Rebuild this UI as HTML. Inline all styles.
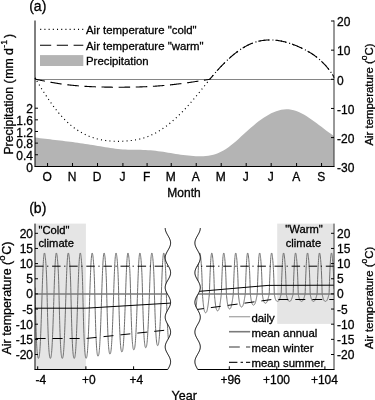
<!DOCTYPE html>
<html><head><meta charset="utf-8"><style>
html,body{margin:0;padding:0;background:#fff;width:375px;height:400px;overflow:hidden;}
svg{display:block;font-family:"Liberation Sans", sans-serif;filter:grayscale(1);}
</style></head><body>
<svg width="375" height="400" viewBox="0 0 375 400" font-family='"Liberation Sans", sans-serif'><style>text{stroke:#000;stroke-width:0.3px}</style><path d="M35,166 L35,137.57 L37.51,137.87 L40.03,138.16 L42.54,138.46 L45.05,138.75 L47.56,139.04 L50.08,139.33 L52.59,139.63 L55.1,139.92 L57.61,140.22 L60.13,140.52 L62.64,140.83 L65.15,141.14 L67.66,141.45 L70.18,141.78 L72.69,142.11 L75.2,142.44 L77.71,142.79 L80.23,143.14 L82.74,143.51 L85.25,143.88 L87.76,144.26 L90.28,144.65 L92.79,145.05 L95.3,145.46 L97.82,145.88 L100.33,146.31 L102.84,146.74 L105.35,147.16 L107.87,147.58 L110.38,147.97 L112.89,148.35 L115.4,148.69 L117.92,148.99 L120.43,149.25 L122.94,149.46 L125.45,149.61 L127.97,149.71 L130.48,149.77 L132.99,149.81 L135.5,149.82 L138.02,149.84 L140.53,149.87 L143.04,149.91 L145.55,150 L148.07,150.13 L150.58,150.32 L153.09,150.56 L155.61,150.83 L158.12,151.15 L160.63,151.5 L163.14,151.87 L165.66,152.26 L168.17,152.66 L170.68,153.07 L173.19,153.47 L175.71,153.88 L178.22,154.27 L180.73,154.64 L183.24,154.99 L185.76,155.3 L188.27,155.58 L190.78,155.82 L193.29,156.01 L195.81,156.14 L198.32,156.22 L200.83,156.22 L203.34,156.13 L205.86,155.95 L208.37,155.65 L210.88,155.21 L213.39,154.63 L215.91,153.89 L218.42,152.98 L220.93,151.87 L223.45,150.55 L225.96,149.01 L228.47,147.27 L230.98,145.36 L233.5,143.31 L236.01,141.15 L238.52,138.9 L241.03,136.61 L243.55,134.3 L246.06,131.99 L248.57,129.72 L251.08,127.52 L253.6,125.38 L256.11,123.32 L258.62,121.36 L261.13,119.5 L263.65,117.75 L266.16,116.14 L268.67,114.66 L271.18,113.33 L273.7,112.17 L276.21,111.19 L278.72,110.39 L281.24,109.8 L283.75,109.43 L286.26,109.28 L288.77,109.36 L291.29,109.66 L293.8,110.2 L296.31,110.96 L298.82,111.96 L301.34,113.16 L303.85,114.54 L306.36,116.07 L308.87,117.72 L311.39,119.46 L313.9,121.26 L316.41,123.1 L318.92,124.98 L321.44,126.87 L323.95,128.76 L326.46,130.64 L328.97,132.51 L331.49,134.35 L334,136.17 L334,166 Z" fill="#b4b4b4"/>
<line x1="35" y1="79.5" x2="334" y2="79.5" stroke="#666" stroke-width="0.8"/>
<polyline points="35,77.86 35.75,79.12 36.5,80.37 37.25,81.62 38,82.85 38.75,84.09 39.5,85.31 40.25,86.52 40.99,87.73 41.74,88.93 42.49,90.12 43.24,91.3 43.99,92.47 44.74,93.63 45.49,94.77 46.24,95.91 46.99,97.04 47.74,98.16 48.49,99.26 49.24,100.35 49.99,101.43 50.74,102.5 51.49,103.55 52.24,104.59 52.98,105.62 53.73,106.63 54.48,107.62 55.23,108.61 55.98,109.57 56.73,110.52 57.48,111.46 58.23,112.38 58.98,113.28 59.73,114.17 60.48,115.04 61.23,115.89 61.98,116.72 62.73,117.53 63.48,118.33 64.23,119.11 64.97,119.87 65.72,120.62 66.47,121.34 67.22,122.05 67.97,122.75 68.72,123.42 69.47,124.08 70.22,124.73 70.97,125.36 71.72,125.97 72.47,126.57 73.22,127.15 73.97,127.72 74.72,128.27 75.47,128.81 76.22,129.33 76.96,129.84 77.71,130.33 78.46,130.81 79.21,131.28 79.96,131.73 80.71,132.17 81.46,132.6 82.21,133.01 82.96,133.41 83.71,133.8 84.46,134.18 85.21,134.54 85.96,134.89 86.71,135.23 87.46,135.56 88.21,135.88 88.95,136.18 89.7,136.48 90.45,136.76 91.2,137.03 91.95,137.3 92.7,137.55 93.45,137.79 94.2,138.03 94.95,138.25 95.7,138.46 96.45,138.67 97.2,138.87 97.95,139.05 98.7,139.23 99.45,139.4 100.2,139.56 100.94,139.72 101.69,139.86 102.44,140 103.19,140.13 103.94,140.26 104.69,140.37 105.44,140.48 106.19,140.58 106.94,140.68 107.69,140.77 108.44,140.85 109.19,140.92 109.94,140.99 110.69,141.05 111.44,141.1 112.19,141.15 112.93,141.19 113.68,141.23 114.43,141.26 115.18,141.28 115.93,141.3 116.68,141.31 117.43,141.31 118.18,141.31 118.93,141.31 119.68,141.3 120.43,141.28 121.18,141.26 121.93,141.23 122.68,141.2 123.43,141.17 124.18,141.12 124.92,141.08 125.67,141.03 126.42,140.97 127.17,140.91 127.92,140.85 128.67,140.78 129.42,140.7 130.17,140.62 130.92,140.54 131.67,140.45 132.42,140.35 133.17,140.25 133.92,140.14 134.67,140.02 135.42,139.9 136.17,139.76 136.91,139.63 137.66,139.48 138.41,139.32 139.16,139.16 139.91,138.99 140.66,138.81 141.41,138.62 142.16,138.42 142.91,138.21 143.66,137.99 144.41,137.76 145.16,137.52 145.91,137.27 146.66,137 147.41,136.73 148.16,136.44 148.9,136.15 149.65,135.84 150.4,135.52 151.15,135.19 151.9,134.84 152.65,134.49 153.4,134.12 154.15,133.75 154.9,133.36 155.65,132.96 156.4,132.55 157.15,132.13 157.9,131.69 158.65,131.25 159.4,130.79 160.15,130.33 160.89,129.85 161.64,129.36 162.39,128.86 163.14,128.35 163.89,127.83 164.64,127.3 165.39,126.76 166.14,126.21 166.89,125.65 167.64,125.07 168.39,124.49 169.14,123.9 169.89,123.29 170.64,122.68 171.39,122.05 172.14,121.42 172.88,120.78 173.63,120.12 174.38,119.46 175.13,118.78 175.88,118.1 176.63,117.4 177.38,116.7 178.13,115.99 178.88,115.26 179.63,114.53 180.38,113.79 181.13,113.04 181.88,112.27 182.63,111.5 183.38,110.72 184.13,109.93 184.87,109.13 185.62,108.33 186.37,107.51 187.12,106.69 187.87,105.86 188.62,105.02 189.37,104.17 190.12,103.32 190.87,102.46 191.62,101.59 192.37,100.72 193.12,99.84 193.87,98.95 194.62,98.06 195.37,97.16 196.12,96.26 196.86,95.35 197.61,94.44 198.36,93.52 199.11,92.6 199.86,91.67 200.61,90.74 201.36,89.81 202.11,88.88 202.86,87.94 203.61,87 204.36,86.06 205.11,85.12 205.86,84.19 206.61,83.25 207.36,82.32 208.11,81.39 208.85,80.47 209.6,79.55 210.35,78.63 211.1,77.72 211.85,76.82 212.6,75.92 213.35,75.04 214.1,74.16 214.85,73.29 215.6,72.43 216.35,71.57 217.1,70.73 217.85,69.9 218.6,69.07 219.35,68.25 220.1,67.45 220.84,66.65 221.59,65.86 222.34,65.08 223.09,64.31 223.84,63.55 224.59,62.8 225.34,62.06 226.09,61.33 226.84,60.61 227.59,59.91 228.34,59.21 229.09,58.52 229.84,57.85 230.59,57.18 231.34,56.53 232.09,55.88 232.83,55.25 233.58,54.63 234.33,54.02 235.08,53.43 235.83,52.84 236.58,52.27 237.33,51.71 238.08,51.16 238.83,50.62 239.58,50.1 240.33,49.59 241.08,49.09 241.83,48.6 242.58,48.13 243.33,47.67 244.08,47.22 244.82,46.78 245.57,46.36 246.32,45.96 247.07,45.56 247.82,45.18 248.57,44.82 249.32,44.46 250.07,44.12 250.82,43.8 251.57,43.49 252.32,43.19 253.07,42.91 253.82,42.64 254.57,42.39 255.32,42.15 256.07,41.92 256.81,41.7 257.56,41.5 258.31,41.31 259.06,41.14 259.81,40.97 260.56,40.82 261.31,40.69 262.06,40.56 262.81,40.45 263.56,40.34 264.31,40.25 265.06,40.18 265.81,40.11 266.56,40.05 267.31,40.01 268.06,39.98 268.8,39.96 269.55,39.95 270.3,39.95 271.05,39.96 271.8,39.98 272.55,40.01 273.3,40.05 274.05,40.11 274.8,40.17 275.55,40.24 276.3,40.32 277.05,40.42 277.8,40.52 278.55,40.63 279.3,40.75 280.05,40.88 280.79,41.01 281.54,41.16 282.29,41.32 283.04,41.48 283.79,41.65 284.54,41.84 285.29,42.02 286.04,42.22 286.79,42.43 287.54,42.64 288.29,42.87 289.04,43.1 289.79,43.34 290.54,43.58 291.29,43.84 292.04,44.1 292.78,44.37 293.53,44.65 294.28,44.93 295.03,45.23 295.78,45.53 296.53,45.84 297.28,46.15 298.03,46.47 298.78,46.8 299.53,47.14 300.28,47.49 301.03,47.84 301.78,48.2 302.53,48.56 303.28,48.94 304.03,49.32 304.77,49.7 305.52,50.1 306.27,50.5 307.02,50.9 307.77,51.32 308.52,51.75 309.27,52.18 310.02,52.63 310.77,53.09 311.52,53.56 312.27,54.04 313.02,54.54 313.77,55.05 314.52,55.57 315.27,56.11 316.02,56.67 316.76,57.25 317.51,57.84 318.26,58.45 319.01,59.08 319.76,59.73 320.51,60.4 321.26,61.09 322.01,61.81 322.76,62.55 323.51,63.31 324.26,64.09 325.01,64.9 325.76,65.74 326.51,66.6 327.26,67.49 328.01,68.4 328.75,69.35 329.5,70.32 330.25,71.33 331,72.36 331.75,73.43 332.5,74.53 333.25,75.66 334,77.86" fill="none" stroke="#000" stroke-width="1.15" stroke-dasharray="1.05 3.23" stroke-dashoffset="0.7"/>
<polyline points="35,77.86 35.75,79.12 36.5,79.44 37.25,79.6 38,79.75 38.75,79.91 39.5,80.07 40.25,80.22 40.99,80.37 41.74,80.53 42.49,80.68 43.24,80.83 43.99,80.98 44.74,81.12 45.49,81.27 46.24,81.42 46.99,81.56 47.74,81.7 48.49,81.84 49.24,81.98 49.99,82.12 50.74,82.26 51.49,82.39 52.24,82.52 52.98,82.65 53.73,82.78 54.48,82.91 55.23,83.03 55.98,83.16 56.73,83.28 57.48,83.4 58.23,83.51 58.98,83.63 59.73,83.74 60.48,83.85 61.23,83.96 61.98,84.07 62.73,84.17 63.48,84.27 64.23,84.37 64.97,84.47 65.72,84.56 66.47,84.66 67.22,84.75 67.97,84.83 68.72,84.92 69.47,85 70.22,85.09 70.97,85.17 71.72,85.25 72.47,85.32 73.22,85.4 73.97,85.47 74.72,85.54 75.47,85.61 76.22,85.67 76.96,85.74 77.71,85.8 78.46,85.86 79.21,85.92 79.96,85.98 80.71,86.04 81.46,86.09 82.21,86.14 82.96,86.19 83.71,86.24 84.46,86.29 85.21,86.34 85.96,86.38 86.71,86.42 87.46,86.47 88.21,86.51 88.95,86.55 89.7,86.58 90.45,86.62 91.2,86.65 91.95,86.69 92.7,86.72 93.45,86.75 94.2,86.78 94.95,86.81 95.7,86.84 96.45,86.86 97.2,86.89 97.95,86.91 98.7,86.93 99.45,86.96 100.2,86.98 100.94,87 101.69,87.01 102.44,87.03 103.19,87.05 103.94,87.07 104.69,87.08 105.44,87.09 106.19,87.11 106.94,87.12 107.69,87.13 108.44,87.14 109.19,87.15 109.94,87.16 110.69,87.17 111.44,87.17 112.19,87.18 112.93,87.18 113.68,87.19 114.43,87.19 115.18,87.2 115.93,87.2 116.68,87.2 117.43,87.2 118.18,87.2 118.93,87.2 119.68,87.2 120.43,87.2 121.18,87.19 121.93,87.19 122.68,87.19 123.43,87.18 124.18,87.18 124.92,87.17 125.67,87.16 126.42,87.16 127.17,87.15 127.92,87.14 128.67,87.13 129.42,87.12 130.17,87.11 130.92,87.1 131.67,87.09 132.42,87.08 133.17,87.06 133.92,87.05 134.67,87.04 135.42,87.02 136.17,87 136.91,86.98 137.66,86.97 138.41,86.95 139.16,86.93 139.91,86.9 140.66,86.88 141.41,86.86 142.16,86.83 142.91,86.8 143.66,86.78 144.41,86.75 145.16,86.72 145.91,86.68 146.66,86.65 147.41,86.62 148.16,86.58 148.9,86.54 149.65,86.5 150.4,86.46 151.15,86.42 151.9,86.38 152.65,86.33 153.4,86.28 154.15,86.24 154.9,86.19 155.65,86.14 156.4,86.08 157.15,86.03 157.9,85.97 158.65,85.92 159.4,85.86 160.15,85.8 160.89,85.74 161.64,85.68 162.39,85.61 163.14,85.55 163.89,85.48 164.64,85.41 165.39,85.35 166.14,85.28 166.89,85.2 167.64,85.13 168.39,85.06 169.14,84.98 169.89,84.9 170.64,84.83 171.39,84.75 172.14,84.67 172.88,84.58 173.63,84.5 174.38,84.42 175.13,84.33 175.88,84.24 176.63,84.15 177.38,84.06 178.13,83.97 178.88,83.88 179.63,83.79 180.38,83.69 181.13,83.6 181.88,83.5 182.63,83.4 183.38,83.3 184.13,83.2 184.87,83.1 185.62,83 186.37,82.89 187.12,82.79 187.87,82.68 188.62,82.58 189.37,82.47 190.12,82.36 190.87,82.25 191.62,82.14 192.37,82.03 193.12,81.92 193.87,81.8 194.62,81.69 195.37,81.58 196.12,81.46 196.86,81.34 197.61,81.23 198.36,81.11 199.11,80.99 199.86,80.88 200.61,80.76 201.36,80.64 202.11,80.52 202.86,80.4 203.61,80.28 204.36,80.16 205.11,80.04 205.86,79.92 206.61,79.8 207.36,79.68 208.11,79.57 208.85,79.45 209.6,79.33 210.35,78.63 211.1,77.72 211.85,76.82 212.6,75.92 213.35,75.04 214.1,74.16 214.85,73.29 215.6,72.43 216.35,71.57 217.1,70.73 217.85,69.9 218.6,69.07 219.35,68.25 220.1,67.45 220.84,66.65 221.59,65.86 222.34,65.08 223.09,64.31 223.84,63.55 224.59,62.8 225.34,62.06 226.09,61.33 226.84,60.61 227.59,59.91 228.34,59.21 229.09,58.52 229.84,57.85 230.59,57.18 231.34,56.53 232.09,55.88 232.83,55.25 233.58,54.63 234.33,54.02 235.08,53.43 235.83,52.84 236.58,52.27 237.33,51.71 238.08,51.16 238.83,50.62 239.58,50.1 240.33,49.59 241.08,49.09 241.83,48.6 242.58,48.13 243.33,47.67 244.08,47.22 244.82,46.78 245.57,46.36 246.32,45.96 247.07,45.56 247.82,45.18 248.57,44.82 249.32,44.46 250.07,44.12 250.82,43.8 251.57,43.49 252.32,43.19 253.07,42.91 253.82,42.64 254.57,42.39 255.32,42.15 256.07,41.92 256.81,41.7 257.56,41.5 258.31,41.31 259.06,41.14 259.81,40.97 260.56,40.82 261.31,40.69 262.06,40.56 262.81,40.45 263.56,40.34 264.31,40.25 265.06,40.18 265.81,40.11 266.56,40.05 267.31,40.01 268.06,39.98 268.8,39.96 269.55,39.95 270.3,39.95 271.05,39.96 271.8,39.98 272.55,40.01 273.3,40.05 274.05,40.11 274.8,40.17 275.55,40.24 276.3,40.32 277.05,40.42 277.8,40.52 278.55,40.63 279.3,40.75 280.05,40.88 280.79,41.01 281.54,41.16 282.29,41.32 283.04,41.48 283.79,41.65 284.54,41.84 285.29,42.02 286.04,42.22 286.79,42.43 287.54,42.64 288.29,42.87 289.04,43.1 289.79,43.34 290.54,43.58 291.29,43.84 292.04,44.1 292.78,44.37 293.53,44.65 294.28,44.93 295.03,45.23 295.78,45.53 296.53,45.84 297.28,46.15 298.03,46.47 298.78,46.8 299.53,47.14 300.28,47.49 301.03,47.84 301.78,48.2 302.53,48.56 303.28,48.94 304.03,49.32 304.77,49.7 305.52,50.1 306.27,50.5 307.02,50.9 307.77,51.32 308.52,51.75 309.27,52.18 310.02,52.63 310.77,53.09 311.52,53.56 312.27,54.04 313.02,54.54 313.77,55.05 314.52,55.57 315.27,56.11 316.02,56.67 316.76,57.25 317.51,57.84 318.26,58.45 319.01,59.08 319.76,59.73 320.51,60.4 321.26,61.09 322.01,61.81 322.76,62.55 323.51,63.31 324.26,64.09 325.01,64.9 325.76,65.74 326.51,66.6 327.26,67.49 328.01,68.4 328.75,69.35 329.5,70.32 330.25,71.33 331,72.36 331.75,73.43 332.5,74.53 333.25,75.66 334,77.86" fill="none" stroke="#000" stroke-width="1.1" stroke-dasharray="11.5 5.64" stroke-dashoffset="0.73"/>
<line x1="35.0" y1="20.5" x2="35.0" y2="166.5" stroke="#000" stroke-width="1"/>
<line x1="334.0" y1="20.5" x2="334.0" y2="166.5" stroke="#333" stroke-width="1"/>
<line x1="34.5" y1="166.5" x2="334.5" y2="166.5" stroke="#000" stroke-width="1"/>
<text x="33" y="171.6" text-anchor="end" font-size="12">0</text>
<line x1="35" y1="154.76" x2="38" y2="154.76" stroke="#000" stroke-width="1"/>
<text x="33" y="159.96" text-anchor="end" font-size="12">0.4</text>
<line x1="35" y1="143.12" x2="38" y2="143.12" stroke="#000" stroke-width="1"/>
<text x="33" y="148.32" text-anchor="end" font-size="12">0.8</text>
<line x1="35" y1="131.48" x2="38" y2="131.48" stroke="#000" stroke-width="1"/>
<text x="33" y="136.68" text-anchor="end" font-size="12">1.2</text>
<line x1="35" y1="119.84" x2="38" y2="119.84" stroke="#000" stroke-width="1"/>
<text x="33" y="125.04" text-anchor="end" font-size="12">1.6</text>
<line x1="35" y1="108.2" x2="38" y2="108.2" stroke="#000" stroke-width="1"/>
<text x="33" y="113.4" text-anchor="end" font-size="12">2</text>
<line x1="331" y1="21" x2="334" y2="21" stroke="#000" stroke-width="1"/>
<text x="337" y="26.2" font-size="12">20</text>
<line x1="331" y1="50.15" x2="334" y2="50.15" stroke="#000" stroke-width="1"/>
<text x="337" y="55.35" font-size="12">10</text>
<line x1="331" y1="79.3" x2="334" y2="79.3" stroke="#000" stroke-width="1"/>
<text x="337" y="84.5" font-size="12">0</text>
<line x1="331" y1="108.45" x2="334" y2="108.45" stroke="#000" stroke-width="1"/>
<text x="337" y="113.65" font-size="12">-10</text>
<line x1="331" y1="137.6" x2="334" y2="137.6" stroke="#000" stroke-width="1"/>
<text x="337" y="142.8" font-size="12">-20</text>
<text x="337" y="171.95" font-size="12">-30</text>
<line x1="47.55" y1="163" x2="47.55" y2="166" stroke="#000" stroke-width="1"/>
<text x="47.15" y="181.2" text-anchor="middle" font-size="12">O</text>
<line x1="72.53" y1="163" x2="72.53" y2="166" stroke="#000" stroke-width="1"/>
<text x="72.13" y="181.2" text-anchor="middle" font-size="12">N</text>
<line x1="97.52" y1="163" x2="97.52" y2="166" stroke="#000" stroke-width="1"/>
<text x="97.12" y="181.2" text-anchor="middle" font-size="12">D</text>
<line x1="122.91" y1="163" x2="122.91" y2="166" stroke="#000" stroke-width="1"/>
<text x="122.51" y="181.2" text-anchor="middle" font-size="12">J</text>
<line x1="147.08" y1="163" x2="147.08" y2="166" stroke="#000" stroke-width="1"/>
<text x="146.68" y="181.2" text-anchor="middle" font-size="12">F</text>
<line x1="171.24" y1="163" x2="171.24" y2="166" stroke="#000" stroke-width="1"/>
<text x="170.84" y="181.2" text-anchor="middle" font-size="12">M</text>
<line x1="196.23" y1="163" x2="196.23" y2="166" stroke="#000" stroke-width="1"/>
<text x="195.83" y="181.2" text-anchor="middle" font-size="12">A</text>
<line x1="221.21" y1="163" x2="221.21" y2="166" stroke="#000" stroke-width="1"/>
<text x="220.81" y="181.2" text-anchor="middle" font-size="12">M</text>
<line x1="246.2" y1="163" x2="246.2" y2="166" stroke="#000" stroke-width="1"/>
<text x="245.8" y="181.2" text-anchor="middle" font-size="12">J</text>
<line x1="271.18" y1="163" x2="271.18" y2="166" stroke="#000" stroke-width="1"/>
<text x="270.78" y="181.2" text-anchor="middle" font-size="12">J</text>
<line x1="296.58" y1="163" x2="296.58" y2="166" stroke="#000" stroke-width="1"/>
<text x="296.18" y="181.2" text-anchor="middle" font-size="12">A</text>
<line x1="321.56" y1="163" x2="321.56" y2="166" stroke="#000" stroke-width="1"/>
<text x="321.16" y="181.2" text-anchor="middle" font-size="12">S</text>
<text x="184" y="196.7" text-anchor="middle" font-size="12">Month</text>
<line x1="40.2" y1="29.4" x2="83.5" y2="29.4" stroke="#000" stroke-width="1.15" stroke-dasharray="1.05 3.15"/>
<line x1="40" y1="45.2" x2="83.3" y2="45.2" stroke="#000" stroke-width="1.1" stroke-dasharray="11.2 5.6"/>
<rect x="40" y="55.1" width="43.3" height="10.9" fill="#b4b4b4"/>
<text x="86" y="33.9" font-size="11.4">Air temperature "cold"</text>
<text x="86" y="49.7" font-size="11.4">Air temperature "warm"</text>
<text x="86" y="65" font-size="11.4">Precipitation</text>
<text x="29.2" y="10.6" font-size="14">(a)</text>
<text transform="translate(13.0,154.6) rotate(-90)" font-size="12.3">Precipitation (<tspan dx="0.6">mm</tspan><tspan> d</tspan><tspan dx="0.4" dy="-6" font-size="8.5">-1</tspan><tspan dx="2" dy="6">)</tspan></text>
<text transform="translate(372.6,145.6) rotate(-90)" font-size="11.4">Air temperature (<tspan dy="-5.5" font-size="8.5">o</tspan><tspan dy="5.5">C)</tspan></text>
<defs><clipPath id="cl"><path d="M35,200 L165.2,200 L165.2,228.1 L165.23,228.81 L165.32,229.52 L165.47,230.23 L165.67,230.94 L165.93,231.65 L166.23,232.36 L166.56,233.07 L166.93,233.78 L167.32,234.49 L167.72,235.21 L168.12,235.92 L168.52,236.63 L168.91,237.34 L169.27,238.05 L169.61,238.76 L169.9,239.47 L170.15,240.18 L170.35,240.89 L170.49,241.6 L170.58,242.31 L170.6,243.02 L170.56,243.73 L170.47,244.44 L170.31,245.15 L170.1,245.86 L169.84,246.57 L169.54,247.28 L169.2,248 L168.83,248.71 L168.44,249.42 L168.04,250.13 L167.64,250.84 L167.24,251.55 L166.85,252.26 L166.49,252.97 L166.16,253.68 L165.87,254.39 L165.63,255.1 L165.44,255.81 L165.3,256.52 L165.22,257.23 L165.2,257.94 L165.24,258.65 L165.35,259.36 L165.51,260.07 L165.72,260.79 L165.98,261.5 L166.29,262.21 L166.63,262.92 L167,263.63 L167.4,264.34 L167.8,265.05 L168.2,265.76 L168.6,266.47 L168.99,267.18 L169.34,267.89 L169.67,268.6 L169.95,269.31 L170.19,270.02 L170.38,270.73 L170.51,271.44 L170.59,272.15 L170.6,272.86 L170.55,273.58 L170.44,274.29 L170.27,275 L170.05,275.71 L169.79,276.42 L169.48,277.13 L169.13,277.84 L168.76,278.55 L168.36,279.26 L167.96,279.97 L167.55,280.68 L167.16,281.39 L166.78,282.1 L166.42,282.81 L166.1,283.52 L165.82,284.23 L165.59,284.94 L165.4,285.65 L165.28,286.37 L165.21,287.08 L165.2,287.79 L165.26,288.5 L165.37,289.21 L165.55,289.92 L165.77,290.63 L166.04,291.34 L166.36,292.05 L166.71,292.76 L167.08,293.47 L167.48,294.18 L167.88,294.89 L168.29,295.6 L168.68,296.31 L169.06,297.02 L169.41,297.73 L169.73,298.44 L170.01,299.16 L170.24,299.87 L170.41,300.58 L170.53,301.29 L170.59,302 L170.59,302.71 L170.53,303.42 L170.41,304.13 L170.23,304.84 L170,305.55 L169.73,306.26 L169.41,306.97 L169.06,307.68 L168.68,308.39 L168.28,309.1 L167.88,309.81 L167.47,310.52 L167.08,311.23 L166.7,311.95 L166.35,312.66 L166.04,313.37 L165.77,314.08 L165.54,314.79 L165.37,315.5 L165.26,316.21 L165.2,316.92 L165.21,317.63 L165.28,318.34 L165.4,319.05 L165.59,319.76 L165.82,320.47 L166.1,321.18 L166.42,321.89 L166.78,322.6 L167.16,323.31 L167.56,324.02 L167.96,324.74 L168.37,325.45 L168.76,326.16 L169.13,326.87 L169.48,327.58 L169.79,328.29 L170.06,329 L170.28,329.71 L170.44,330.42 L170.55,331.13 L170.6,331.84 L170.58,332.55 L170.51,333.26 L170.38,333.97 L170.19,334.68 L169.95,335.39 L169.67,336.1 L169.34,336.81 L168.98,337.53 L168.6,338.24 L168.2,338.95 L167.8,339.66 L167.39,340.37 L167,341.08 L166.63,341.79 L166.29,342.5 L165.98,343.21 L165.72,343.92 L165.51,344.63 L165.35,345.34 L165.24,346.05 L165.2,346.76 L165.22,347.47 L165.3,348.18 L165.44,348.89 L165.63,349.6 L165.87,350.32 L166.16,351.03 L166.49,351.74 L166.86,352.45 L167.24,353.16 L167.64,353.87 L168.04,354.58 L168.45,355.29 L168.84,356 L169.21,356.71 L169.54,357.42 L169.85,358.13 L170.1,358.84 L170.31,359.55 L170.47,360.26 L170.56,360.97 L170.6,361.68 L170.57,362.39 L170.49,363.11 L170.35,363.82 L170.15,364.53 L169.9,365.24 L169.6,365.95 L169.27,366.66 L168.91,367.37 L168.52,368.08 L168.12,368.79 L167.71,369.5 L35,400 Z"/></clipPath><clipPath id="cr"><path d="M334,200 L200.3,200 L200.3,228.1 L200.27,228.81 L200.18,229.52 L200.03,230.23 L199.83,230.94 L199.57,231.65 L199.27,232.36 L198.94,233.07 L198.57,233.78 L198.18,234.49 L197.78,235.21 L197.38,235.92 L196.98,236.63 L196.59,237.34 L196.23,238.05 L195.89,238.76 L195.6,239.47 L195.35,240.18 L195.15,240.89 L195.01,241.6 L194.92,242.31 L194.9,243.02 L194.94,243.73 L195.03,244.44 L195.19,245.15 L195.4,245.86 L195.66,246.57 L195.96,247.28 L196.3,248 L196.67,248.71 L197.06,249.42 L197.46,250.13 L197.86,250.84 L198.26,251.55 L198.65,252.26 L199.01,252.97 L199.34,253.68 L199.63,254.39 L199.87,255.1 L200.06,255.81 L200.2,256.52 L200.28,257.23 L200.3,257.94 L200.26,258.65 L200.15,259.36 L199.99,260.07 L199.78,260.79 L199.52,261.5 L199.21,262.21 L198.87,262.92 L198.5,263.63 L198.1,264.34 L197.7,265.05 L197.3,265.76 L196.9,266.47 L196.51,267.18 L196.16,267.89 L195.83,268.6 L195.55,269.31 L195.31,270.02 L195.12,270.73 L194.99,271.44 L194.91,272.15 L194.9,272.86 L194.95,273.58 L195.06,274.29 L195.23,275 L195.45,275.71 L195.71,276.42 L196.02,277.13 L196.37,277.84 L196.74,278.55 L197.14,279.26 L197.54,279.97 L197.95,280.68 L198.34,281.39 L198.72,282.1 L199.08,282.81 L199.4,283.52 L199.68,284.23 L199.91,284.94 L200.1,285.65 L200.22,286.37 L200.29,287.08 L200.3,287.79 L200.24,288.5 L200.13,289.21 L199.95,289.92 L199.73,290.63 L199.46,291.34 L199.14,292.05 L198.79,292.76 L198.42,293.47 L198.02,294.18 L197.62,294.89 L197.21,295.6 L196.82,296.31 L196.44,297.02 L196.09,297.73 L195.77,298.44 L195.49,299.16 L195.26,299.87 L195.09,300.58 L194.97,301.29 L194.91,302 L194.91,302.71 L194.97,303.42 L195.09,304.13 L195.27,304.84 L195.5,305.55 L195.77,306.26 L196.09,306.97 L196.44,307.68 L196.82,308.39 L197.22,309.1 L197.62,309.81 L198.03,310.52 L198.42,311.23 L198.8,311.95 L199.15,312.66 L199.46,313.37 L199.73,314.08 L199.96,314.79 L200.13,315.5 L200.24,316.21 L200.3,316.92 L200.29,317.63 L200.22,318.34 L200.1,319.05 L199.91,319.76 L199.68,320.47 L199.4,321.18 L199.08,321.89 L198.72,322.6 L198.34,323.31 L197.94,324.02 L197.54,324.74 L197.13,325.45 L196.74,326.16 L196.37,326.87 L196.02,327.58 L195.71,328.29 L195.44,329 L195.22,329.71 L195.06,330.42 L194.95,331.13 L194.9,331.84 L194.92,332.55 L194.99,333.26 L195.12,333.97 L195.31,334.68 L195.55,335.39 L195.83,336.1 L196.16,336.81 L196.52,337.53 L196.9,338.24 L197.3,338.95 L197.7,339.66 L198.11,340.37 L198.5,341.08 L198.87,341.79 L199.21,342.5 L199.52,343.21 L199.78,343.92 L199.99,344.63 L200.15,345.34 L200.26,346.05 L200.3,346.76 L200.28,347.47 L200.2,348.18 L200.06,348.89 L199.87,349.6 L199.63,350.32 L199.34,351.03 L199.01,351.74 L198.64,352.45 L198.26,353.16 L197.86,353.87 L197.46,354.58 L197.05,355.29 L196.66,356 L196.29,356.71 L195.96,357.42 L195.65,358.13 L195.4,358.84 L195.19,359.55 L195.03,360.26 L194.94,360.97 L194.9,361.68 L194.93,362.39 L195.01,363.11 L195.15,363.82 L195.35,364.53 L195.6,365.24 L195.9,365.95 L196.23,366.66 L196.59,367.37 L196.98,368.08 L197.38,368.79 L197.79,369.5 L334,400 Z"/></clipPath></defs>
<rect x="35.5" y="223.6" width="50.4" height="146" fill="#e5e5e5"/>
<rect x="277.2" y="223.6" width="56.3" height="100.3" fill="#e5e5e5"/>
<text x="38.5" y="233.6" font-size="11.2">"Cold"</text>
<text x="38.5" y="247.2" font-size="11.2">climate</text>
<text x="304" y="233.3" text-anchor="middle" font-size="11.2">"Warm"</text>
<text x="303.4" y="247.2" text-anchor="middle" font-size="11.2">climate</text>
<g clip-path="url(#cl)">
<polyline points="35,287.61 35.13,293.73 35.25,299.12 35.38,304.38 35.5,309.47 35.63,314.36 35.75,319.04 35.88,323.46 36,327.62 36.13,331.48 36.25,335.02 36.38,338.24 36.5,341.15 36.63,343.77 36.75,346.12 36.88,348.21 37,350.06 37.13,351.67 37.25,353.07 37.38,354.27 37.5,355.29 37.63,356.14 37.75,356.84 37.88,357.39 38,357.81 38.13,358.11 38.25,358.29 38.38,358.36 38.5,358.33 38.63,358.2 38.75,357.98 38.88,357.68 39,357.28 39.13,356.76 39.25,356.1 39.38,355.29 39.5,354.29 39.63,353.1 39.75,351.69 39.88,350.08 40,348.27 40.13,346.25 40.25,344.03 40.38,341.62 40.51,339.03 40.63,336.24 40.76,333.28 40.88,330.14 41.01,326.82 41.13,323.34 41.26,319.71 41.38,315.95 41.51,312.07 41.63,308.1 41.76,304.06 41.88,299.98 42.01,295.92 42.13,291.94 42.26,288.08 42.38,284.37 42.51,280.83 42.63,277.47 42.76,274.28 42.88,271.29 43.01,268.49 43.13,265.91 43.26,263.54 43.38,261.41 43.51,259.51 43.63,257.85 43.76,256.45 43.88,255.3 44.01,254.39 44.13,253.72 44.26,253.27 44.38,253.04 44.51,253 44.63,253.16 44.76,253.5 44.88,254.02 45.01,254.69 45.13,255.52 45.26,256.5 45.38,257.63 45.51,258.9 45.63,260.3 45.76,261.83 45.88,263.49 46.01,265.29 46.14,267.26 46.26,269.48 46.39,271.98 46.51,274.83 46.64,278.08 46.76,281.78 46.89,285.99 47.01,290.76 47.14,297.23 47.26,302.54 47.39,307.69 47.51,312.66 47.64,317.41 47.76,321.93 47.89,326.19 48.01,330.15 48.14,333.81 48.26,337.14 48.39,340.15 48.51,342.88 48.64,345.32 48.76,347.5 48.89,349.43 49.01,351.13 49.14,352.6 49.26,353.87 49.39,354.95 49.51,355.86 49.64,356.61 49.76,357.21 49.89,357.68 50.01,358.02 50.14,358.24 50.26,358.35 50.39,358.35 50.51,358.26 50.64,358.07 50.76,357.8 50.89,357.44 51.01,356.96 51.14,356.35 51.26,355.59 51.39,354.67 51.52,353.54 51.64,352.21 51.77,350.68 51.89,348.93 52.02,346.98 52.14,344.84 52.27,342.5 52.39,339.96 52.52,337.25 52.64,334.35 52.77,331.27 52.89,328.01 53.02,324.59 53.14,321.01 53.27,317.29 53.39,313.45 53.52,309.52 53.64,305.49 53.77,301.42 53.89,297.35 54.02,293.33 54.14,289.42 54.27,285.66 54.39,282.06 54.52,278.63 54.64,275.38 54.77,272.32 54.89,269.46 55.02,266.8 55.14,264.35 55.27,262.13 55.39,260.15 55.52,258.41 55.64,256.91 55.77,255.68 55.89,254.69 56.02,253.93 56.14,253.41 56.27,253.1 56.39,252.99 56.52,253.08 56.64,253.36 56.77,253.82 56.89,254.44 57.02,255.21 57.15,256.14 57.27,257.22 57.4,258.43 57.52,259.79 57.65,261.28 57.77,262.89 57.9,264.64 58.02,266.54 58.15,268.66 58.27,271.06 58.4,273.78 58.52,276.88 58.65,280.42 58.77,284.44 58.9,289.01 59.02,295.33 59.15,300.69 59.27,305.9 59.4,310.93 59.52,315.76 59.65,320.37 59.77,324.72 59.9,328.79 60.02,332.55 60.15,336 60.27,339.12 60.4,341.95 60.52,344.49 60.65,346.76 60.77,348.78 60.9,350.55 61.02,352.1 61.15,353.45 61.27,354.59 61.4,355.56 61.52,356.36 61.65,357.01 61.77,357.53 61.9,357.91 62.02,358.17 62.15,358.32 62.27,358.36 62.4,358.3 62.53,358.14 62.65,357.9 62.78,357.58 62.9,357.14 63.03,356.58 63.15,355.88 63.28,355.01 63.4,353.96 63.53,352.71 63.65,351.24 63.78,349.57 63.9,347.69 64.03,345.62 64.15,343.34 64.28,340.88 64.4,338.23 64.53,335.39 64.65,332.37 64.78,329.18 64.9,325.81 65.03,322.29 65.15,318.62 65.28,314.82 65.4,310.92 65.53,306.92 65.65,302.86 65.78,298.78 65.9,294.74 66.03,290.79 66.15,286.97 66.28,283.32 66.4,279.83 66.53,276.51 66.65,273.38 66.78,270.44 66.9,267.71 67.03,265.19 67.15,262.89 67.28,260.82 67.4,258.99 67.53,257.41 67.65,256.08 67.78,255.01 67.91,254.17 68.03,253.57 68.16,253.18 68.28,253.01 68.41,253.03 68.53,253.24 68.66,253.64 68.78,254.2 68.91,254.92 69.03,255.8 69.16,256.82 69.28,257.99 69.41,259.3 69.53,260.74 69.66,262.31 69.78,264 69.91,265.85 70.03,267.89 70.16,270.18 70.28,272.78 70.41,275.74 70.53,279.12 70.66,282.96 70.78,287.33 70.91,293.41 71.03,298.81 71.16,304.08 71.28,309.17 71.41,314.08 71.53,318.77 71.66,323.21 71.78,327.38 71.91,331.26 72.03,334.82 72.16,338.05 72.28,340.99 72.41,343.63 72.53,345.99 72.66,348.09 72.78,349.95 72.91,351.58 73.03,353 73.16,354.21 73.28,355.24 73.41,356.1 73.54,356.8 73.66,357.36 73.79,357.79 73.91,358.1 74.04,358.28 74.16,358.36 74.29,358.33 74.41,358.21 74.54,358 74.66,357.7 74.79,357.31 74.91,356.8 75.04,356.15 75.16,355.34 75.29,354.36 75.41,353.17 75.54,351.78 75.66,350.18 75.79,348.38 75.91,346.37 76.04,344.17 76.16,341.77 76.29,339.18 76.41,336.41 76.54,333.46 76.66,330.33 76.79,327.02 76.91,323.55 77.04,319.93 77.16,316.17 77.29,312.3 77.41,308.34 77.54,304.3 77.66,300.22 77.79,296.16 77.91,292.17 78.04,288.3 78.16,284.59 78.29,281.04 78.41,277.66 78.54,274.46 78.66,271.46 78.79,268.65 78.92,266.06 79.04,263.68 79.17,261.53 79.29,259.61 79.42,257.94 79.54,256.52 79.67,255.36 79.79,254.44 79.92,253.76 80.04,253.29 80.17,253.05 80.29,253 80.42,253.15 80.54,253.48 80.67,253.98 80.79,254.65 80.92,255.47 81.04,256.44 81.17,257.56 81.29,258.82 81.42,260.21 81.54,261.74 81.67,263.39 81.79,265.18 81.92,267.14 82.04,269.34 82.17,271.82 82.29,274.65 82.42,277.87 82.54,281.55 82.67,285.73 82.79,290.46 82.92,296.92 83.04,302.24 83.17,307.4 83.29,312.37 83.42,317.14 83.54,321.67 83.67,325.94 83.79,329.93 83.92,333.6 84.04,336.95 84.17,339.99 84.29,342.73 84.42,345.19 84.55,347.38 84.67,349.32 84.8,351.03 84.92,352.52 85.05,353.8 85.17,354.89 85.3,355.81 85.42,356.57 85.55,357.18 85.67,357.65 85.8,358 85.92,358.21 86.05,358.3 86.17,358.29 86.3,358.18 86.42,357.97 86.55,357.69 86.67,357.31 86.8,356.82 86.92,356.2 87.05,355.43 87.17,354.5 87.3,353.37 87.42,352.04 87.55,350.5 87.67,348.75 87.8,346.81 87.92,344.67 88.05,342.34 88.17,339.82 88.3,337.11 88.42,334.23 88.55,331.17 88.67,327.94 88.8,324.54 88.92,320.99 89.05,317.3 89.17,313.5 89.3,309.6 89.42,305.61 89.55,301.58 89.67,297.55 89.8,293.57 89.93,289.65 90.05,285.88 90.18,282.27 90.3,278.83 90.43,275.57 90.55,272.5 90.68,269.62 90.8,266.95 90.93,264.49 91.05,262.26 91.18,260.26 91.3,258.5 91.43,256.99 91.55,255.74 91.68,254.74 91.8,253.97 91.93,253.43 92.05,253.11 92.18,252.99 92.3,253.07 92.43,253.34 92.55,253.79 92.68,254.4 92.8,255.16 92.93,256.08 93.05,257.15 93.18,258.36 93.3,259.71 93.43,261.19 93.55,262.79 93.68,264.53 93.8,266.42 93.93,268.53 94.05,270.91 94.18,273.61 94.3,276.69 94.43,280.2 94.55,284.19 94.68,288.72 94.8,294.98 94.93,300.21 95.05,305.3 95.18,310.21 95.31,314.92 95.43,319.41 95.56,323.65 95.68,327.62 95.81,331.29 95.93,334.64 96.06,337.68 96.18,340.43 96.31,342.9 96.43,345.1 96.56,347.05 96.68,348.77 96.81,350.27 96.93,351.56 97.06,352.66 97.18,353.58 97.31,354.35 97.43,354.97 97.56,355.45 97.68,355.81 97.81,356.05 97.93,356.17 98.06,356.2 98.18,356.12 98.31,355.95 98.43,355.7 98.56,355.37 98.68,354.94 98.81,354.38 98.93,353.69 99.06,352.85 99.18,351.82 99.31,350.61 99.43,349.19 99.56,347.57 99.68,345.76 99.81,343.75 99.93,341.56 100.06,339.19 100.18,336.63 100.31,333.9 100.43,331 100.56,327.94 100.68,324.71 100.81,321.32 100.94,317.8 101.06,314.16 101.19,310.42 101.31,306.59 101.44,302.71 101.56,298.8 101.69,294.93 101.81,291.02 101.94,287.19 102.06,283.53 102.19,280.03 102.31,276.7 102.44,273.56 102.56,270.61 102.69,267.87 102.81,265.33 102.94,263.02 103.06,260.94 103.19,259.09 103.31,257.5 103.44,256.16 103.56,255.07 103.69,254.22 103.81,253.6 103.94,253.2 104.06,253.01 104.19,253.02 104.31,253.23 104.44,253.61 104.56,254.16 104.69,254.87 104.81,255.74 104.94,256.76 105.06,257.92 105.19,259.22 105.31,260.65 105.44,262.21 105.56,263.9 105.69,265.73 105.81,267.76 105.94,270.04 106.06,272.62 106.19,275.55 106.32,278.9 106.44,282.72 106.57,287.06 106.69,293.09 106.82,298.23 106.94,303.2 107.07,308.01 107.19,312.63 107.32,317.05 107.44,321.23 107.57,325.16 107.69,328.81 107.82,332.16 107.94,335.2 108.07,337.96 108.19,340.44 108.32,342.65 108.44,344.62 108.57,346.36 108.69,347.88 108.82,349.19 108.94,350.32 109.07,351.27 109.19,352.06 109.32,352.71 109.44,353.22 109.57,353.61 109.69,353.88 109.82,354.04 109.94,354.09 110.07,354.05 110.19,353.92 110.32,353.7 110.44,353.41 110.57,353.03 110.69,352.54 110.82,351.92 110.94,351.15 111.07,350.23 111.19,349.12 111.32,347.82 111.44,346.32 111.57,344.63 111.69,342.76 111.82,340.71 111.95,338.48 112.07,336.07 112.2,333.49 112.32,330.75 112.45,327.84 112.57,324.77 112.7,321.56 112.82,318.2 112.95,314.72 113.07,311.14 113.2,307.47 113.32,303.73 113.45,299.96 113.57,296.21 113.7,292.4 113.82,288.52 113.95,284.8 114.07,281.24 114.2,277.85 114.32,274.65 114.45,271.63 114.57,268.81 114.7,266.2 114.82,263.81 114.95,261.65 115.07,259.72 115.2,258.03 115.32,256.6 115.45,255.42 115.57,254.49 115.7,253.79 115.82,253.31 115.95,253.05 116.07,253 116.2,253.13 116.32,253.45 116.45,253.95 116.57,254.61 116.7,255.42 116.82,256.38 116.95,257.49 117.07,258.74 117.2,260.13 117.33,261.65 117.45,263.29 117.58,265.07 117.7,267.02 117.83,269.2 117.95,271.67 118.08,274.47 118.2,277.67 118.33,281.32 118.45,285.47 118.58,290.17 118.7,296.36 118.83,301.2 118.95,305.9 119.08,310.43 119.2,314.76 119.33,318.88 119.45,322.77 119.58,326.39 119.7,329.72 119.83,332.76 119.95,335.52 120.08,338 120.2,340.23 120.33,342.21 120.45,343.96 120.58,345.5 120.7,346.84 120.83,347.99 120.95,348.96 121.08,349.78 121.2,350.45 121.33,350.99 121.45,351.4 121.58,351.7 121.7,351.89 121.83,351.98 121.95,351.97 122.08,351.87 122.2,351.69 122.33,351.43 122.45,351.09 122.58,350.66 122.71,350.11 122.83,349.42 122.96,348.58 123.08,347.58 123.21,346.39 123.33,345.01 123.46,343.44 123.58,341.7 123.71,339.78 123.83,337.68 123.96,335.42 124.08,332.99 124.21,330.4 124.33,327.65 124.46,324.75 124.58,321.69 124.71,318.5 124.83,315.18 124.96,311.76 125.08,308.25 125.21,304.67 125.33,301.03 125.46,297.4 125.58,293.8 125.71,289.88 125.83,286.1 125.96,282.48 126.08,279.03 126.21,275.76 126.33,272.67 126.46,269.78 126.58,267.1 126.71,264.63 126.83,262.38 126.96,260.37 127.08,258.6 127.21,257.08 127.33,255.81 127.46,254.79 127.58,254.01 127.71,253.46 127.83,253.12 127.96,252.99 128.08,253.06 128.21,253.32 128.34,253.75 128.46,254.36 128.59,255.11 128.71,256.02 128.84,257.08 128.96,258.28 129.09,259.62 129.21,261.1 129.34,262.7 129.46,264.42 129.59,266.31 129.71,268.4 129.84,270.76 129.96,273.44 130.09,276.5 130.21,279.98 130.34,283.94 130.46,288.44 130.59,294.59 130.71,299.31 130.84,303.89 130.96,308.31 131.09,312.56 131.21,316.61 131.34,320.43 131.46,324.02 131.59,327.33 131.71,330.36 131.84,333.11 131.96,335.59 132.09,337.82 132.21,339.82 132.34,341.58 132.46,343.14 132.59,344.49 132.71,345.66 132.84,346.66 132.96,347.5 133.09,348.19 133.21,348.75 133.34,349.19 133.46,349.52 133.59,349.73 133.72,349.85 133.84,349.87 133.97,349.81 134.09,349.66 134.22,349.44 134.34,349.14 134.47,348.75 134.59,348.26 134.72,347.65 134.84,346.89 134.97,345.98 135.09,344.9 135.22,343.63 135.34,342.19 135.47,340.57 135.59,338.78 135.72,336.82 135.84,334.69 135.97,332.41 136.09,329.97 136.22,327.37 136.34,324.62 136.47,321.73 136.59,318.7 136.72,315.54 136.84,312.28 136.97,308.93 137.09,305.5 137.22,302.01 137.34,298.5 137.47,295.03 137.59,291.25 137.72,287.41 137.84,283.74 137.97,280.23 138.09,276.89 138.22,273.74 138.34,270.78 138.47,268.02 138.59,265.48 138.72,263.15 138.84,261.05 138.97,259.19 139.09,257.58 139.22,256.23 139.35,255.12 139.47,254.26 139.6,253.63 139.72,253.22 139.85,253.02 139.97,253.02 140.1,253.21 140.22,253.58 140.35,254.13 140.47,254.83 140.6,255.69 140.72,256.69 140.85,257.84 140.97,259.14 141.1,260.56 141.22,262.12 141.35,263.8 141.47,265.62 141.6,267.63 141.72,269.9 141.85,272.46 141.97,275.37 142.1,278.7 142.22,282.48 142.35,286.79 142.47,292.76 142.6,297.52 142.72,301.97 142.85,306.29 142.97,310.44 143.1,314.41 143.22,318.17 143.35,321.7 143.47,324.98 143.6,328 143.72,330.74 143.85,333.22 143.97,335.45 144.1,337.44 144.22,339.22 144.35,340.78 144.47,342.15 144.6,343.34 144.73,344.36 144.85,345.21 144.98,345.93 145.1,346.51 145.23,346.97 145.35,347.32 145.48,347.57 145.6,347.72 145.73,347.77 145.85,347.73 145.98,347.62 146.1,347.43 146.23,347.17 146.35,346.83 146.48,346.39 146.6,345.84 146.73,345.17 146.85,344.34 146.98,343.36 147.1,342.2 147.23,340.87 147.35,339.37 147.48,337.7 147.6,335.87 147.73,333.89 147.85,331.74 147.98,329.44 148.1,327 148.23,324.41 148.35,321.67 148.48,318.8 148.6,315.8 148.73,312.7 148.85,309.5 148.98,306.23 149.1,302.89 149.23,299.52 149.35,296.16 149.48,292.63 149.6,288.75 149.73,285.02 149.85,281.45 149.98,278.05 150.11,274.83 150.23,271.8 150.36,268.97 150.48,266.35 150.61,263.95 150.73,261.77 150.86,259.82 150.98,258.12 151.11,256.68 151.23,255.48 151.36,254.54 151.48,253.82 151.61,253.34 151.73,253.06 151.86,252.99 151.98,253.12 152.11,253.43 152.23,253.91 152.36,254.56 152.48,255.37 152.61,256.32 152.73,257.42 152.86,258.66 152.98,260.04 153.11,261.55 153.23,263.19 153.36,264.96 153.48,266.9 153.61,269.07 153.73,271.51 153.86,274.3 153.98,277.47 154.11,281.09 154.23,285.21 154.36,289.88 154.48,295.84 154.61,300.16 154.73,304.36 154.86,308.41 154.98,312.29 155.11,315.98 155.23,319.45 155.36,322.69 155.48,325.68 155.61,328.41 155.74,330.87 155.86,333.1 155.99,335.1 156.11,336.88 156.24,338.45 156.36,339.83 156.49,341.03 156.61,342.06 156.74,342.94 156.86,343.67 156.99,344.27 157.11,344.76 157.24,345.13 157.36,345.4 157.49,345.57 157.61,345.65 157.74,345.65 157.86,345.56 157.99,345.4 158.11,345.18 158.24,344.88 158.36,344.49 158.49,344 158.61,343.4 158.74,342.66 158.86,341.77 158.99,340.71 159.11,339.49 159.24,338.11 159.36,336.56 159.49,334.86 159.61,333 159.74,330.99 159.86,328.84 159.99,326.54 160.11,324.1 160.24,321.52 160.36,318.8 160.49,315.97 160.61,313.02 160.74,309.98 160.86,306.86 160.99,303.67 161.12,300.44 161.24,297.2 161.37,294.01 161.49,290.1 161.62,286.32 161.74,282.69 161.87,279.23 161.99,275.94 162.12,272.85 162.24,269.95 162.37,267.25 162.49,264.77 162.62,262.51 162.74,260.48 162.87,258.69 162.99,257.16 163.12,255.88 163.24,254.84 163.37,254.05 163.49,253.48 163.62,253.14 163.74,253 163.87,253.05 163.99,253.3 164.12,253.72 164.24,254.32 164.37,255.07 164.49,255.97 164.62,257.02 164.74,258.21 164.87,259.54 164.99,261.01 165.12,262.6 165.24,264.32 165.37,266.19 165.49,268.27 165.62,270.61 165.74,273.27 165.87,276.3 165.99,279.76 166.12,283.69 166.24,288.16 166.37,294.27 166.49,298.46 166.62,302.53 166.75,306.47 166.87,310.25 167,313.86 167.12,317.27 167.25,320.46 167.37,323.41 167.5,326.12 167.62,328.57 167.75,330.79 167.87,332.78 168,334.56 168.12,336.13 168.25,337.52 168.37,338.73 168.5,339.78 168.62,340.67 168.75,341.42 168.87,342.04 169,342.54 169.12,342.93 169.25,343.22 169.37,343.42 169.5,343.53 169.62,343.55 169.75,343.49 169.87,343.36 170,343.17 170.12,342.91 170.25,342.57 170.37,342.13 170.5,341.59 170.62,340.93 170.75,340.13 170.87,339.17 171,338.06 171.12,336.79 171.25,335.36 171.37,333.78 171.5,332.05 171.62,330.17 171.75,328.15 171.87,325.99 172,323.7" fill="none" stroke="#6e6e6e" stroke-width="1.0"/>
<line x1="35" y1="294" x2="172" y2="294" stroke="#7a7a7a" stroke-width="1.7"/>
<line x1="35" y1="266.2" x2="172" y2="266.2" stroke="#000" stroke-width="1" stroke-dasharray="8.5 3.6 1.2 3.8" stroke-dashoffset="0"/>
<polyline points="35,308.2 85.8,308.2 172,303" fill="none" stroke="#000" stroke-width="1"/>
<polyline points="35,338.5 85.8,338.5 172,329.5" fill="none" stroke="#000" stroke-width="1" stroke-dasharray="10 7" stroke-dashoffset="16.4"/>
</g>
<g clip-path="url(#cr)">
<polyline points="193,314.13 193.13,314.32 193.25,314.47 193.38,314.57 193.5,314.63 193.63,314.66 193.75,314.65 193.88,314.61 194,314.54 194.13,314.44 194.25,314.31 194.38,314.15 194.5,313.95 194.63,313.71 194.75,313.41 194.88,313.06 195,312.64 195.13,312.16 195.25,311.61 195.38,311 195.5,310.32 195.63,309.59 195.75,308.79 195.88,307.94 196,307.04 196.13,306.07 196.25,305.06 196.38,303.99 196.5,302.88 196.63,301.72 196.75,300.52 196.88,299.29 197,298.04 197.13,296.77 197.25,295.49 197.38,294.23 197.5,291 197.63,287.19 197.75,283.54 197.88,280.05 198,276.73 198.13,273.6 198.25,270.66 198.38,267.92 198.5,265.39 198.63,263.08 198.76,261 198.88,259.15 199.01,257.55 199.13,256.2 199.26,255.11 199.38,254.25 199.51,253.62 199.63,253.21 199.76,253.02 199.88,253.02 200.01,253.21 200.13,253.58 200.26,254.12 200.38,254.82 200.51,255.67 200.63,256.67 200.76,257.81 200.88,259.1 201.01,260.51 201.13,262.06 201.26,263.73 201.38,265.54 201.51,267.54 201.63,269.78 201.76,272.31 201.88,275.2 202.01,278.49 202.13,282.23 202.26,286.49 202.38,291.31 202.51,295.07 202.63,296.65 202.76,298.18 202.88,299.65 203.01,301.05 203.13,302.38 203.26,303.63 203.38,304.79 203.51,305.86 203.63,306.83 203.76,307.7 203.88,308.49 204.01,309.19 204.13,309.81 204.26,310.36 204.39,310.84 204.51,311.25 204.64,311.6 204.76,311.9 204.89,312.14 205.01,312.34 205.14,312.5 205.26,312.61 205.39,312.69 205.51,312.74 205.64,312.75 205.76,312.73 205.89,312.68 206.01,312.6 206.14,312.51 206.26,312.38 206.39,312.22 206.51,312.03 206.64,311.79 206.76,311.5 206.89,311.16 207.01,310.76 207.14,310.3 207.26,309.78 207.39,309.21 207.51,308.58 207.64,307.89 207.76,307.16 207.89,306.37 208.01,305.53 208.14,304.64 208.26,303.7 208.39,302.72 208.51,301.69 208.64,300.63 208.76,299.54 208.89,298.42 209.01,297.27 209.14,296.12 209.26,294.97 209.39,293.66 209.51,289.75 209.64,285.99 209.76,282.39 209.89,278.95 210.02,275.69 210.14,272.62 210.27,269.75 210.39,267.07 210.52,264.62 210.64,262.38 210.77,260.37 210.89,258.6 211.02,257.09 211.14,255.82 211.27,254.8 211.39,254.02 211.52,253.47 211.64,253.13 211.77,253 211.89,253.06 212.02,253.31 212.14,253.74 212.27,254.33 212.39,255.08 212.52,255.98 212.64,257.03 212.77,258.22 212.89,259.54 213.02,261 213.14,262.59 213.27,264.3 213.39,266.17 213.52,268.24 213.64,270.57 213.77,273.21 213.89,276.22 214.02,279.65 214.14,283.56 214.27,287.99 214.39,293.97 214.52,295.42 214.64,296.83 214.77,298.19 214.89,299.5 215.02,300.74 215.14,301.92 215.27,303.02 215.39,304.03 215.52,304.96 215.65,305.8 215.77,306.56 215.9,307.24 216.02,307.85 216.15,308.39 216.27,308.86 216.4,309.26 216.52,309.62 216.65,309.91 216.77,310.16 216.9,310.37 217.02,310.53 217.15,310.66 217.27,310.75 217.4,310.81 217.52,310.83 217.65,310.83 217.77,310.81 217.9,310.75 218.02,310.68 218.15,310.58 218.27,310.45 218.4,310.3 218.52,310.11 218.65,309.88 218.77,309.61 218.9,309.28 219.02,308.9 219.15,308.47 219.27,307.99 219.4,307.46 219.52,306.87 219.65,306.24 219.77,305.56 219.9,304.84 220.02,304.07 220.15,303.26 220.27,302.4 220.4,301.51 220.52,300.58 220.65,299.62 220.77,298.63 220.9,297.62 221.02,296.59 221.15,295.55 221.28,294.52 221.4,292.37 221.53,288.51 221.65,284.8 221.78,281.25 221.9,277.87 222.03,274.68 222.15,271.67 222.28,268.86 222.4,266.25 222.53,263.86 222.65,261.7 222.78,259.77 222.9,258.08 223.03,256.65 223.15,255.46 223.28,254.52 223.4,253.82 223.53,253.33 223.65,253.06 223.78,252.99 223.9,253.12 224.03,253.43 224.15,253.91 224.28,254.55 224.4,255.35 224.53,256.3 224.65,257.4 224.78,258.63 224.9,260 225.03,261.5 225.15,263.13 225.28,264.89 225.4,266.81 225.53,268.96 225.65,271.39 225.78,274.15 225.9,277.29 226.03,280.87 226.15,284.94 226.28,289.55 226.4,294.39 226.53,295.67 226.65,296.91 226.78,298.1 226.91,299.25 227.03,300.33 227.16,301.36 227.28,302.31 227.41,303.19 227.53,303.99 227.66,304.71 227.78,305.36 227.91,305.94 228.03,306.46 228.16,306.92 228.28,307.31 228.41,307.66 228.53,307.95 228.66,308.2 228.78,308.41 228.91,308.57 229.03,308.71 229.16,308.8 229.28,308.87 229.41,308.91 229.53,308.93 229.66,308.92 229.78,308.88 229.91,308.83 230.03,308.75 230.16,308.65 230.28,308.53 230.41,308.39 230.53,308.21 230.66,307.99 230.78,307.73 230.91,307.42 231.03,307.07 231.16,306.67 231.28,306.23 231.41,305.74 231.53,305.2 231.66,304.63 231.78,304.02 231.91,303.36 232.03,302.67 232.16,301.93 232.28,301.17 232.41,300.36 232.54,299.53 232.66,298.67 232.79,297.79 232.91,296.89 233.04,295.98 233.16,295.06 233.29,294.16 233.41,291.1 233.54,287.29 233.66,283.63 233.79,280.13 233.91,276.81 234.04,273.68 234.16,270.73 234.29,267.99 234.41,265.45 234.54,263.14 234.66,261.05 234.79,259.2 234.91,257.59 235.04,256.24 235.16,255.13 235.29,254.27 235.41,253.64 235.54,253.22 235.66,253.02 235.79,253.01 235.91,253.2 236.04,253.57 236.16,254.1 236.29,254.8 236.41,255.65 236.54,256.64 236.66,257.78 236.79,259.06 236.91,260.48 237.04,262.02 237.16,263.69 237.29,265.49 237.41,267.48 237.54,269.72 237.66,272.25 237.79,275.12 237.91,278.4 238.04,282.13 238.17,286.37 238.29,291.18 238.42,294.69 238.54,295.81 238.67,296.88 238.79,297.92 238.92,298.9 239.04,299.84 239.17,300.71 239.29,301.52 239.42,302.27 239.54,302.95 239.67,303.56 239.79,304.1 239.92,304.59 240.04,305.02 240.17,305.4 240.29,305.73 240.42,306.02 240.54,306.26 240.67,306.46 240.79,306.63 240.92,306.76 241.04,306.86 241.17,306.94 241.29,306.99 241.42,307.01 241.54,307.02 241.67,307 241.79,306.96 241.92,306.9 242.04,306.83 242.17,306.73 242.29,306.62 242.42,306.48 242.54,306.31 242.67,306.11 242.79,305.86 242.92,305.58 243.04,305.26 243.17,304.9 243.29,304.49 243.42,304.06 243.54,303.58 243.67,303.07 243.8,302.52 243.92,301.93 244.05,301.32 244.17,300.67 244.3,299.99 244.42,299.28 244.55,298.55 244.67,297.8 244.8,297.02 244.92,296.24 245.05,295.44 245.17,294.65 245.3,293.76 245.42,289.85 245.55,286.08 245.67,282.47 245.8,279.04 245.92,275.77 246.05,272.7 246.17,269.82 246.3,267.14 246.42,264.67 246.55,262.43 246.67,260.42 246.8,258.65 246.92,257.12 247.05,255.85 247.17,254.83 247.3,254.04 247.42,253.48 247.55,253.13 247.67,253 247.8,253.06 247.92,253.3 248.05,253.72 248.17,254.31 248.3,255.06 248.42,255.95 248.55,257 248.67,258.18 248.8,259.51 248.92,260.96 249.05,262.55 249.17,264.26 249.3,266.12 249.43,268.18 249.55,270.5 249.68,273.14 249.8,276.14 249.93,279.56 250.05,283.45 250.18,287.87 250.3,293.92 250.43,294.9 250.55,295.84 250.68,296.76 250.8,297.63 250.93,298.46 251.05,299.25 251.18,299.98 251.3,300.66 251.43,301.28 251.55,301.84 251.68,302.34 251.8,302.79 251.93,303.19 252.05,303.54 252.18,303.85 252.3,304.12 252.43,304.35 252.55,304.54 252.68,304.7 252.8,304.83 252.93,304.93 253.05,305.01 253.18,305.07 253.3,305.1 253.43,305.11 253.55,305.1 253.68,305.08 253.8,305.04 253.93,304.98 254.05,304.91 254.18,304.82 254.3,304.71 254.43,304.58 254.55,304.43 254.68,304.24 254.8,304.02 254.93,303.77 255.06,303.48 255.18,303.15 255.31,302.8 255.43,302.41 255.56,301.99 255.68,301.55 255.81,301.07 255.93,300.56 256.06,300.03 256.18,299.47 256.31,298.88 256.43,298.27 256.56,297.64 256.68,297 256.81,296.34 256.93,295.66 257.06,294.99 257.18,294.32 257.31,292.47 257.43,288.61 257.56,284.89 257.68,281.34 257.81,277.96 257.93,274.75 258.06,271.74 258.18,268.92 258.31,266.32 258.43,263.92 258.56,261.75 258.68,259.82 258.81,258.12 258.93,256.68 259.06,255.49 259.18,254.55 259.31,253.83 259.43,253.34 259.56,253.07 259.68,252.99 259.81,253.11 259.93,253.42 260.06,253.9 260.18,254.54 260.31,255.33 260.43,256.28 260.56,257.37 260.69,258.6 260.81,259.97 260.94,261.46 261.06,263.09 261.19,264.84 261.31,266.76 261.44,268.9 261.56,271.32 261.69,274.07 261.81,277.2 261.94,280.77 262.06,284.83 262.19,289.43 262.31,294.19 262.44,294.99 262.56,295.78 262.69,296.53 262.81,297.25 262.94,297.93 263.06,298.57 263.19,299.17 263.31,299.71 263.44,300.21 263.56,300.66 263.69,301.06 263.81,301.42 263.94,301.74 264.06,302.02 264.19,302.26 264.31,302.47 264.44,302.65 264.56,302.8 264.69,302.92 264.81,303.02 264.94,303.09 265.06,303.15 265.19,303.18 265.31,303.2 265.44,303.2 265.56,303.19 265.69,303.16 265.81,303.12 265.94,303.06 266.06,302.99 266.19,302.91 266.31,302.82 266.44,302.7 266.57,302.56 266.69,302.39 266.82,302.2 266.94,301.97 267.07,301.72 267.19,301.45 267.32,301.14 267.44,300.81 267.57,300.46 267.69,300.08 267.82,299.67 267.94,299.25 268.07,298.8 268.19,298.33 268.32,297.83 268.44,297.33 268.57,296.8 268.69,296.27 268.82,295.72 268.94,295.17 269.07,294.62 269.19,294.07 269.32,291.2 269.44,287.38 269.57,283.72 269.69,280.22 269.82,276.9 269.94,273.75 270.07,270.8 270.19,268.05 270.32,265.51 270.44,263.19 270.57,261.1 270.69,259.24 270.82,257.63 270.94,256.27 271.07,255.16 271.19,254.29 271.32,253.65 271.44,253.23 271.57,253.02 271.69,253.01 271.82,253.19 271.94,253.56 272.07,254.09 272.2,254.78 272.32,255.62 272.45,256.62 272.57,257.75 272.7,259.03 272.82,260.44 272.95,261.98 273.07,263.64 273.2,265.44 273.32,267.43 273.45,269.66 273.57,272.18 273.7,275.04 273.82,278.31 273.95,282.03 274.07,286.26 274.2,291.05 274.32,294.34 274.45,294.99 274.57,295.61 274.7,296.2 274.82,296.77 274.95,297.31 275.07,297.81 275.2,298.27 275.32,298.7 275.45,299.08 275.57,299.42 275.7,299.73 275.82,300.01 275.95,300.25 276.07,300.46 276.2,300.64 276.32,300.79 276.45,300.92 276.57,301.03 276.7,301.12 276.82,301.18 276.95,301.23 277.07,301.28 277.2,301.32 277.32,301.35 277.45,301.36 277.57,301.36 277.7,301.35 277.83,301.33 277.95,301.3 278.08,301.26 278.2,301.2 278.33,301.13 278.45,301.05 278.58,300.94 278.7,300.81 278.83,300.66 278.95,300.48 279.08,300.28 279.2,300.06 279.33,299.82 279.45,299.55 279.58,299.26 279.7,298.95 279.83,298.61 279.95,298.26 280.08,297.89 280.2,297.49 280.33,297.08 280.45,296.66 280.58,296.21 280.7,295.76 280.83,295.3 280.95,294.83 281.08,294.36 281.2,293.86 281.33,289.94 281.45,286.17 281.58,282.56 281.7,279.12 281.83,275.86 281.95,272.77 282.08,269.89 282.2,267.21 282.33,264.73 282.45,262.49 282.58,260.47 282.7,258.69 282.83,257.16 282.95,255.88 283.08,254.85 283.2,254.06 283.33,253.49 283.46,253.14 283.58,253 283.71,253.05 283.83,253.29 283.96,253.71 284.08,254.29 284.21,255.04 284.33,255.93 284.46,256.97 284.58,258.15 284.71,259.47 284.83,260.92 284.96,262.51 285.08,264.21 285.21,266.07 285.33,268.13 285.46,270.44 285.58,273.07 285.71,276.06 285.83,279.47 285.96,283.35 286.08,287.75 286.21,293.88 286.33,294.52 286.46,295.13 286.58,295.71 286.71,296.28 286.83,296.82 286.96,297.33 287.08,297.8 287.21,298.25 287.33,298.66 287.46,299.03 287.58,299.37 287.71,299.67 287.83,299.94 287.96,300.18 288.08,300.39 288.21,300.58 288.33,300.74 288.46,300.88 288.58,301 288.71,301.1 288.83,301.18 288.96,301.25 289.09,301.3 289.21,301.33 289.34,301.35 289.46,301.36 289.59,301.36 289.71,301.34 289.84,301.32 289.96,301.29 290.09,301.24 290.21,301.18 290.34,301.11 290.46,301.01 290.59,300.9 290.71,300.77 290.84,300.61 290.96,300.42 291.09,300.22 291.21,299.98 291.34,299.73 291.46,299.46 291.59,299.16 291.71,298.84 291.84,298.5 291.96,298.14 292.09,297.76 292.21,297.36 292.34,296.95 292.46,296.51 292.59,296.07 292.71,295.61 292.84,295.15 292.96,294.68 293.09,294.21 293.21,292.57 293.34,288.7 293.46,284.98 293.59,281.43 293.71,278.04 293.84,274.83 293.96,271.81 294.09,268.99 294.21,266.38 294.34,263.98 294.46,261.8 294.59,259.86 294.72,258.16 294.84,256.71 294.97,255.52 295.09,254.57 295.22,253.85 295.34,253.35 295.47,253.07 295.59,252.99 295.72,253.11 295.84,253.41 295.97,253.88 296.09,254.52 296.22,255.31 296.34,256.25 296.47,257.34 296.59,258.57 296.72,259.93 296.84,261.42 296.97,263.05 297.09,264.8 297.22,266.71 297.34,268.85 297.47,271.26 297.59,274 297.72,277.12 297.84,280.67 297.97,284.72 298.09,289.31 298.22,294.1 298.34,294.72 298.47,295.32 298.59,295.9 298.72,296.45 298.84,296.98 298.97,297.48 299.09,297.95 299.22,298.39 299.34,298.78 299.47,299.14 299.59,299.47 299.72,299.76 299.84,300.02 299.97,300.25 300.09,300.46 300.22,300.64 300.35,300.79 300.47,300.92 300.6,301.04 300.72,301.13 300.85,301.2 300.97,301.26 301.1,301.31 301.22,301.34 301.35,301.36 301.47,301.36 301.6,301.35 301.72,301.34 301.85,301.31 301.97,301.27 302.1,301.22 302.22,301.16 302.35,301.08 302.47,300.98 302.6,300.86 302.72,300.72 302.85,300.55 302.97,300.36 303.1,300.14 303.22,299.9 303.35,299.64 303.47,299.36 303.6,299.06 303.72,298.73 303.85,298.39 303.97,298.02 304.1,297.63 304.22,297.23 304.35,296.81 304.47,296.37 304.6,295.92 304.72,295.46 304.85,294.99 304.97,294.52 305.1,294.06 305.22,291.3 305.35,287.48 305.47,283.81 305.6,280.31 305.72,276.98 305.85,273.83 305.98,270.88 306.1,268.12 306.23,265.58 306.35,263.25 306.48,261.15 306.6,259.28 306.73,257.66 306.85,256.3 306.98,255.18 307.1,254.31 307.23,253.66 307.35,253.24 307.48,253.02 307.6,253.01 307.73,253.19 307.85,253.54 307.98,254.07 308.1,254.76 308.23,255.6 308.35,256.59 308.48,257.72 308.6,258.99 308.73,260.4 308.85,261.94 308.98,263.6 309.1,265.4 309.23,267.38 309.35,269.6 309.48,272.11 309.6,274.97 309.73,278.22 309.85,281.93 309.98,286.15 310.1,290.92 310.23,294.3 310.35,294.92 310.48,295.51 310.6,296.08 310.73,296.63 310.85,297.15 310.98,297.64 311.1,298.1 311.23,298.52 311.35,298.9 311.48,299.25 311.61,299.57 311.73,299.85 311.86,300.1 311.98,300.32 312.11,300.52 312.23,300.69 312.36,300.84 312.48,300.96 312.61,301.07 312.73,301.15 312.86,301.22 312.98,301.28 313.11,301.32 313.23,301.35 313.36,301.36 313.48,301.36 313.61,301.35 313.73,301.33 313.86,301.3 313.98,301.26 314.11,301.2 314.23,301.13 314.36,301.05 314.48,300.94 314.61,300.82 314.73,300.66 314.86,300.49 314.98,300.29 315.11,300.07 315.23,299.82 315.36,299.56 315.48,299.27 315.61,298.95 315.73,298.62 315.86,298.27 315.98,297.9 316.11,297.5 316.23,297.09 316.36,296.67 316.48,296.23 316.61,295.77 316.73,295.31 316.86,294.84 316.98,294.37 317.11,293.91 317.24,290.04 317.36,286.27 317.49,282.65 317.61,279.21 317.74,275.94 317.86,272.85 317.99,269.96 318.11,267.27 318.24,264.79 318.36,262.54 318.49,260.52 318.61,258.73 318.74,257.19 318.86,255.91 318.99,254.87 319.11,254.07 319.24,253.5 319.36,253.15 319.49,253 319.61,253.05 319.74,253.28 319.86,253.7 319.99,254.28 320.11,255.01 320.24,255.9 320.36,256.94 320.49,258.12 320.61,259.44 320.74,260.89 320.86,262.46 320.99,264.17 321.11,266.02 321.24,268.07 321.36,270.38 321.49,273 321.61,275.98 321.74,279.37 321.86,283.24 321.99,287.63 322.11,293.74 322.24,294.5 322.36,295.11 322.49,295.7 322.61,296.26 322.74,296.8 322.87,297.31 322.99,297.79 323.12,298.24 323.24,298.65 323.37,299.02 323.49,299.36 323.62,299.66 323.74,299.93 323.87,300.18 323.99,300.39 324.12,300.58 324.24,300.74 324.37,300.88 324.49,301 324.62,301.1 324.74,301.18 324.87,301.24 324.99,301.29 325.12,301.33 325.24,301.35 325.37,301.36 325.49,301.36 325.62,301.34 325.74,301.32 325.87,301.29 325.99,301.24 326.12,301.18 326.24,301.11 326.37,301.02 326.49,300.9 326.62,300.77 326.74,300.61 326.87,300.43 326.99,300.22 327.12,299.99 327.24,299.74 327.37,299.46 327.49,299.17 327.62,298.85 327.74,298.51 327.87,298.15 327.99,297.77 328.12,297.37 328.24,296.96 328.37,296.53 328.5,296.08 328.62,295.62 328.75,295.16 328.87,294.69 329,294.22 329.12,292.67 329.25,288.8 329.37,285.08 329.5,281.51 329.62,278.12 329.75,274.91 329.87,271.89 330,269.06 330.12,266.44 330.25,264.04 330.37,261.86 330.5,259.91 330.62,258.2 330.75,256.75 330.87,255.55 331,254.59 331.12,253.86 331.25,253.36 331.37,253.08 331.5,252.99 331.62,253.1 331.75,253.4 331.87,253.87 332,254.5 332.12,255.29 332.25,256.23 332.37,257.31 332.5,258.53 332.62,259.89 332.75,261.38 332.87,263 333,264.75 333.12,266.66 333.25,268.79 333.37,271.19 333.5,273.92 333.62,277.03 333.75,280.58 333.87,284.61 334,289.18" fill="none" stroke="#6e6e6e" stroke-width="1.0"/>
<line x1="193" y1="294" x2="334" y2="294" stroke="#7a7a7a" stroke-width="1.7"/>
<line x1="193" y1="266.2" x2="334" y2="266.2" stroke="#000" stroke-width="1" stroke-dasharray="8.5 3.6 1.2 3.8" stroke-dashoffset="4.0"/>
<polyline points="193,291.9 268,285.4 334,285.2" fill="none" stroke="#000" stroke-width="1"/>
<polyline points="193,310 272,299.5 334,299.5" fill="none" stroke="#000" stroke-width="1" stroke-dasharray="10 7" stroke-dashoffset="16"/>
</g>
<line x1="35.0" y1="223.6" x2="35.0" y2="369.5" stroke="#000" stroke-width="1"/>
<line x1="334.0" y1="223.6" x2="334.0" y2="369.5" stroke="#333" stroke-width="1"/>
<line x1="34.5" y1="369.5" x2="167.71" y2="369.5" stroke="#000" stroke-width="1"/>
<line x1="197.79" y1="369.5" x2="334.5" y2="369.5" stroke="#000" stroke-width="1"/>
<polyline points="165.2,228.1 165.23,228.81 165.32,229.52 165.47,230.23 165.67,230.94 165.93,231.65 166.23,232.36 166.56,233.07 166.93,233.78 167.32,234.49 167.72,235.21 168.12,235.92 168.52,236.63 168.91,237.34 169.27,238.05 169.61,238.76 169.9,239.47 170.15,240.18 170.35,240.89 170.49,241.6 170.58,242.31 170.6,243.02 170.56,243.73 170.47,244.44 170.31,245.15 170.1,245.86 169.84,246.57 169.54,247.28 169.2,248 168.83,248.71 168.44,249.42 168.04,250.13 167.64,250.84 167.24,251.55 166.85,252.26 166.49,252.97 166.16,253.68 165.87,254.39 165.63,255.1 165.44,255.81 165.3,256.52 165.22,257.23 165.2,257.94 165.24,258.65 165.35,259.36 165.51,260.07 165.72,260.79 165.98,261.5 166.29,262.21 166.63,262.92 167,263.63 167.4,264.34 167.8,265.05 168.2,265.76 168.6,266.47 168.99,267.18 169.34,267.89 169.67,268.6 169.95,269.31 170.19,270.02 170.38,270.73 170.51,271.44 170.59,272.15 170.6,272.86 170.55,273.58 170.44,274.29 170.27,275 170.05,275.71 169.79,276.42 169.48,277.13 169.13,277.84 168.76,278.55 168.36,279.26 167.96,279.97 167.55,280.68 167.16,281.39 166.78,282.1 166.42,282.81 166.1,283.52 165.82,284.23 165.59,284.94 165.4,285.65 165.28,286.37 165.21,287.08 165.2,287.79 165.26,288.5 165.37,289.21 165.55,289.92 165.77,290.63 166.04,291.34 166.36,292.05 166.71,292.76 167.08,293.47 167.48,294.18 167.88,294.89 168.29,295.6 168.68,296.31 169.06,297.02 169.41,297.73 169.73,298.44 170.01,299.16 170.24,299.87 170.41,300.58 170.53,301.29 170.59,302 170.59,302.71 170.53,303.42 170.41,304.13 170.23,304.84 170,305.55 169.73,306.26 169.41,306.97 169.06,307.68 168.68,308.39 168.28,309.1 167.88,309.81 167.47,310.52 167.08,311.23 166.7,311.95 166.35,312.66 166.04,313.37 165.77,314.08 165.54,314.79 165.37,315.5 165.26,316.21 165.2,316.92 165.21,317.63 165.28,318.34 165.4,319.05 165.59,319.76 165.82,320.47 166.1,321.18 166.42,321.89 166.78,322.6 167.16,323.31 167.56,324.02 167.96,324.74 168.37,325.45 168.76,326.16 169.13,326.87 169.48,327.58 169.79,328.29 170.06,329 170.28,329.71 170.44,330.42 170.55,331.13 170.6,331.84 170.58,332.55 170.51,333.26 170.38,333.97 170.19,334.68 169.95,335.39 169.67,336.1 169.34,336.81 168.98,337.53 168.6,338.24 168.2,338.95 167.8,339.66 167.39,340.37 167,341.08 166.63,341.79 166.29,342.5 165.98,343.21 165.72,343.92 165.51,344.63 165.35,345.34 165.24,346.05 165.2,346.76 165.22,347.47 165.3,348.18 165.44,348.89 165.63,349.6 165.87,350.32 166.16,351.03 166.49,351.74 166.86,352.45 167.24,353.16 167.64,353.87 168.04,354.58 168.45,355.29 168.84,356 169.21,356.71 169.54,357.42 169.85,358.13 170.1,358.84 170.31,359.55 170.47,360.26 170.56,360.97 170.6,361.68 170.57,362.39 170.49,363.11 170.35,363.82 170.15,364.53 169.9,365.24 169.6,365.95 169.27,366.66 168.91,367.37 168.52,368.08 168.12,368.79 167.71,369.5" fill="none" stroke="#000" stroke-width="1"/>
<polyline points="200.3,228.1 200.27,228.81 200.18,229.52 200.03,230.23 199.83,230.94 199.57,231.65 199.27,232.36 198.94,233.07 198.57,233.78 198.18,234.49 197.78,235.21 197.38,235.92 196.98,236.63 196.59,237.34 196.23,238.05 195.89,238.76 195.6,239.47 195.35,240.18 195.15,240.89 195.01,241.6 194.92,242.31 194.9,243.02 194.94,243.73 195.03,244.44 195.19,245.15 195.4,245.86 195.66,246.57 195.96,247.28 196.3,248 196.67,248.71 197.06,249.42 197.46,250.13 197.86,250.84 198.26,251.55 198.65,252.26 199.01,252.97 199.34,253.68 199.63,254.39 199.87,255.1 200.06,255.81 200.2,256.52 200.28,257.23 200.3,257.94 200.26,258.65 200.15,259.36 199.99,260.07 199.78,260.79 199.52,261.5 199.21,262.21 198.87,262.92 198.5,263.63 198.1,264.34 197.7,265.05 197.3,265.76 196.9,266.47 196.51,267.18 196.16,267.89 195.83,268.6 195.55,269.31 195.31,270.02 195.12,270.73 194.99,271.44 194.91,272.15 194.9,272.86 194.95,273.58 195.06,274.29 195.23,275 195.45,275.71 195.71,276.42 196.02,277.13 196.37,277.84 196.74,278.55 197.14,279.26 197.54,279.97 197.95,280.68 198.34,281.39 198.72,282.1 199.08,282.81 199.4,283.52 199.68,284.23 199.91,284.94 200.1,285.65 200.22,286.37 200.29,287.08 200.3,287.79 200.24,288.5 200.13,289.21 199.95,289.92 199.73,290.63 199.46,291.34 199.14,292.05 198.79,292.76 198.42,293.47 198.02,294.18 197.62,294.89 197.21,295.6 196.82,296.31 196.44,297.02 196.09,297.73 195.77,298.44 195.49,299.16 195.26,299.87 195.09,300.58 194.97,301.29 194.91,302 194.91,302.71 194.97,303.42 195.09,304.13 195.27,304.84 195.5,305.55 195.77,306.26 196.09,306.97 196.44,307.68 196.82,308.39 197.22,309.1 197.62,309.81 198.03,310.52 198.42,311.23 198.8,311.95 199.15,312.66 199.46,313.37 199.73,314.08 199.96,314.79 200.13,315.5 200.24,316.21 200.3,316.92 200.29,317.63 200.22,318.34 200.1,319.05 199.91,319.76 199.68,320.47 199.4,321.18 199.08,321.89 198.72,322.6 198.34,323.31 197.94,324.02 197.54,324.74 197.13,325.45 196.74,326.16 196.37,326.87 196.02,327.58 195.71,328.29 195.44,329 195.22,329.71 195.06,330.42 194.95,331.13 194.9,331.84 194.92,332.55 194.99,333.26 195.12,333.97 195.31,334.68 195.55,335.39 195.83,336.1 196.16,336.81 196.52,337.53 196.9,338.24 197.3,338.95 197.7,339.66 198.11,340.37 198.5,341.08 198.87,341.79 199.21,342.5 199.52,343.21 199.78,343.92 199.99,344.63 200.15,345.34 200.26,346.05 200.3,346.76 200.28,347.47 200.2,348.18 200.06,348.89 199.87,349.6 199.63,350.32 199.34,351.03 199.01,351.74 198.64,352.45 198.26,353.16 197.86,353.87 197.46,354.58 197.05,355.29 196.66,356 196.29,356.71 195.96,357.42 195.65,358.13 195.4,358.84 195.19,359.55 195.03,360.26 194.94,360.97 194.9,361.68 194.93,362.39 195.01,363.11 195.15,363.82 195.35,364.53 195.6,365.24 195.9,365.95 196.23,366.66 196.59,367.37 196.98,368.08 197.38,368.79 197.79,369.5" fill="none" stroke="#000" stroke-width="1"/>
<line x1="35" y1="233.3" x2="38" y2="233.3" stroke="#000" stroke-width="1"/>
<line x1="331" y1="233.3" x2="334" y2="233.3" stroke="#000" stroke-width="1"/>
<text x="33" y="237.8" text-anchor="end" font-size="12">20</text>
<text x="337" y="237.8" font-size="12">20</text>
<line x1="35" y1="248.45" x2="38" y2="248.45" stroke="#000" stroke-width="1"/>
<line x1="331" y1="248.45" x2="334" y2="248.45" stroke="#000" stroke-width="1"/>
<text x="33" y="252.95" text-anchor="end" font-size="12">15</text>
<text x="337" y="252.95" font-size="12">15</text>
<line x1="35" y1="263.6" x2="38" y2="263.6" stroke="#000" stroke-width="1"/>
<line x1="331" y1="263.6" x2="334" y2="263.6" stroke="#000" stroke-width="1"/>
<text x="33" y="268.1" text-anchor="end" font-size="12">10</text>
<text x="337" y="268.1" font-size="12">10</text>
<line x1="35" y1="278.75" x2="38" y2="278.75" stroke="#000" stroke-width="1"/>
<line x1="331" y1="278.75" x2="334" y2="278.75" stroke="#000" stroke-width="1"/>
<text x="33" y="283.25" text-anchor="end" font-size="12">5</text>
<text x="337" y="283.25" font-size="12">5</text>
<line x1="35" y1="293.9" x2="38" y2="293.9" stroke="#000" stroke-width="1"/>
<line x1="331" y1="293.9" x2="334" y2="293.9" stroke="#000" stroke-width="1"/>
<text x="33" y="298.4" text-anchor="end" font-size="12">0</text>
<text x="337" y="298.4" font-size="12">0</text>
<line x1="35" y1="309.05" x2="38" y2="309.05" stroke="#000" stroke-width="1"/>
<line x1="331" y1="309.05" x2="334" y2="309.05" stroke="#000" stroke-width="1"/>
<text x="33" y="313.55" text-anchor="end" font-size="12">-5</text>
<text x="337" y="313.55" font-size="12">-5</text>
<line x1="35" y1="324.2" x2="38" y2="324.2" stroke="#000" stroke-width="1"/>
<line x1="331" y1="324.2" x2="334" y2="324.2" stroke="#000" stroke-width="1"/>
<text x="33" y="328.7" text-anchor="end" font-size="12">-10</text>
<text x="337" y="328.7" font-size="12">-10</text>
<line x1="35" y1="339.35" x2="38" y2="339.35" stroke="#000" stroke-width="1"/>
<line x1="331" y1="339.35" x2="334" y2="339.35" stroke="#000" stroke-width="1"/>
<text x="33" y="343.85" text-anchor="end" font-size="12">-15</text>
<text x="337" y="343.85" font-size="12">-15</text>
<line x1="35" y1="354.5" x2="38" y2="354.5" stroke="#000" stroke-width="1"/>
<line x1="331" y1="354.5" x2="334" y2="354.5" stroke="#000" stroke-width="1"/>
<text x="33" y="359" text-anchor="end" font-size="12">-20</text>
<text x="337" y="359" font-size="12">-20</text>
<line x1="37.7" y1="366.3" x2="37.7" y2="369.5" stroke="#000" stroke-width="1"/>
<text x="40.9" y="383.8" text-anchor="middle" font-size="12">-4</text>
<line x1="85.9" y1="366.3" x2="85.9" y2="369.5" stroke="#000" stroke-width="1"/>
<text x="88.9" y="383.8" text-anchor="middle" font-size="12">+0</text>
<line x1="133.6" y1="366.3" x2="133.6" y2="369.5" stroke="#000" stroke-width="1"/>
<text x="136.4" y="383.8" text-anchor="middle" font-size="12">+4</text>
<line x1="229.3" y1="366.3" x2="229.3" y2="369.5" stroke="#000" stroke-width="1"/>
<text x="230.6" y="383.8" text-anchor="middle" font-size="12">+96</text>
<line x1="276.8" y1="366.3" x2="276.8" y2="369.5" stroke="#000" stroke-width="1"/>
<text x="276.5" y="383.8" text-anchor="middle" font-size="12">+100</text>
<line x1="324.9" y1="366.3" x2="324.9" y2="369.5" stroke="#000" stroke-width="1"/>
<text x="324.4" y="383.8" text-anchor="middle" font-size="12">+104</text>
<text x="184.2" y="399.9" text-anchor="middle" font-size="12.5">Year</text>
<text x="29.2" y="212.8" font-size="14">(b)</text>
<text transform="translate(11.4,354.5) rotate(-90)" font-size="12.5">Air temperature (<tspan dy="-6.3" font-size="9.5">o</tspan><tspan dx="0.6" dy="6.3">C)</tspan></text>
<text transform="translate(372.6,349) rotate(-90)" font-size="11.4">Air temperature (<tspan dy="-5.5" font-size="8.5">o</tspan><tspan dy="5.5">C)</tspan></text>
<line x1="229" y1="316.7" x2="250.2" y2="316.7" stroke="#a8a8a8" stroke-width="1.3"/>
<line x1="229" y1="331.7" x2="250.2" y2="331.7" stroke="#7a7a7a" stroke-width="1.6"/>
<line x1="229" y1="347.0" x2="250.2" y2="347.0" stroke="#7a7a7a" stroke-width="1.6" stroke-dasharray="10.8 6.2"/>
<line x1="229" y1="362.3" x2="250.2" y2="362.3" stroke="#222" stroke-width="1.3" stroke-dasharray="8.4 3.2 2.4 3"/>
<text x="251.4" y="321.7" font-size="11.4">daily</text>
<text x="251.4" y="336.8" font-size="11.4">mean annual</text>
<text x="251.4" y="351.9" font-size="11.4">mean winter</text>
<text x="251.4" y="367" font-size="11.4">mean summer</text></svg>
</body></html>
